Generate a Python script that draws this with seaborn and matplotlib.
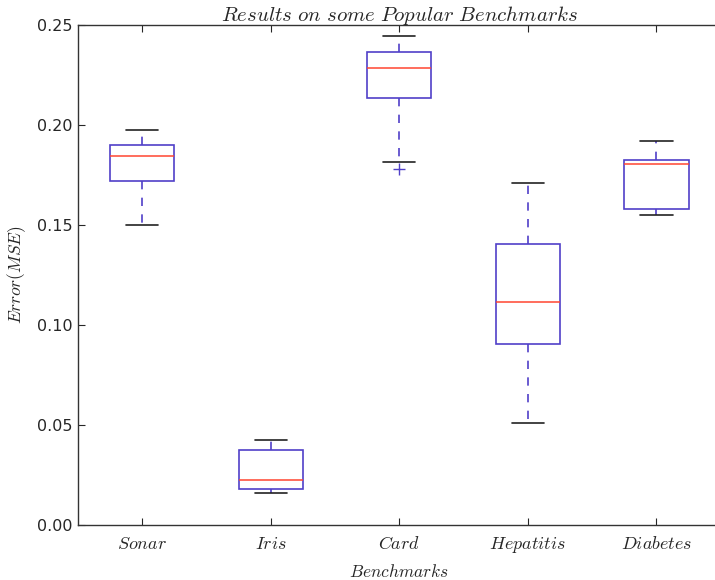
import numpy as np
import pandas as pd
import matplotlib
matplotlib.use('Agg')
import matplotlib.pyplot as plt
import seaborn as sns

# 벤치마크별 오차 (그림에서 읽은 값: 아래수염, Q1, 중앙값, Q3, 위수염)
benchmarks = ['Sonar', 'Iris', 'Card', 'Hepatitis', 'Diabetes']
sonar = [0.150, 0.172, 0.1845, 0.190, 0.1975]
iris = [0.016, 0.018, 0.0225, 0.0375, 0.0425]
card = [0.178, 0.1815, 0.2135, 0.221, 0.2285, 0.233, 0.2365, 0.240, 0.2445]  # 0.178 = 이상치
hepatitis = [0.051, 0.0905, 0.1115, 0.1405, 0.171]
diabetes = [0.155, 0.158, 0.1805, 0.1825, 0.192]

tick_labels = ['$Sonar$', '$Iris$', '$Card$', '$Hepatitis$', '$Diabetes$']
y_ticks = [0.00, 0.05, 0.10, 0.15, 0.20, 0.25]

rows = []
for name, vals in zip(benchmarks, [sonar, iris, card, hepatitis, diabetes]):
    for v in vals:
        rows.append({'benchmark': name, 'error': v})
df = pd.DataFrame(rows)

sns.set_style('ticks')
plt.rcParams['font.family'] = ['DejaVu Sans']
plt.rcParams['mathtext.fontset'] = 'cm'

box_c = '#5040c8'
fig = plt.figure(figsize=(7.15, 5.8), dpi=100)
ax = fig.add_axes([0.109, 0.095, 0.899, 0.862])

sns.boxplot(data=df, x='benchmark', y='error', order=benchmarks,
            width=0.5, whis=1.5, ax=ax,
            boxprops=dict(facecolor='white', edgecolor=box_c, linewidth=1.2),
            whiskerprops=dict(color=box_c, linewidth=1.2, linestyle=(0, (5, 5))),
            capprops=dict(color='#222222', linewidth=1.2),
            medianprops=dict(color='#ff4530', linewidth=1.1),
            flierprops=dict(marker='+', markeredgecolor=box_c, markersize=8,
                            markeredgewidth=1.0))

ax.set_xlim(-0.5, 4.5)
ax.set_ylim(0, 0.25)
ax.set_yticks(y_ticks)
ax.set_yticklabels([f'{t:.2f}' for t in y_ticks], fontsize=11.5)
ax.set_xticks(range(len(benchmarks)))
ax.set_xticklabels(tick_labels, fontsize=13)
ax.tick_params(direction='in', top=True, right=False, length=5, width=0.8, pad=7)
ax.tick_params(axis='y', pad=4)
for s in ax.spines.values():
    s.set_visible(True)
    s.set_linewidth(1.0)
    s.set_color('#333333')
ax.spines['right'].set_visible(False)  # 원본에서는 오른쪽 테두리가 잘려 보이지 않음

ax.set_title(r'$Results\ on\ some\ Popular\ Benchmarks$', fontsize=15, pad=3)
ax.set_xlabel('$Benchmarks$', fontsize=12.5, labelpad=6)
ax.set_ylabel('$Error(MSE)$', fontsize=12.5, labelpad=6)

fig.savefig('out.png', dpi=100)
